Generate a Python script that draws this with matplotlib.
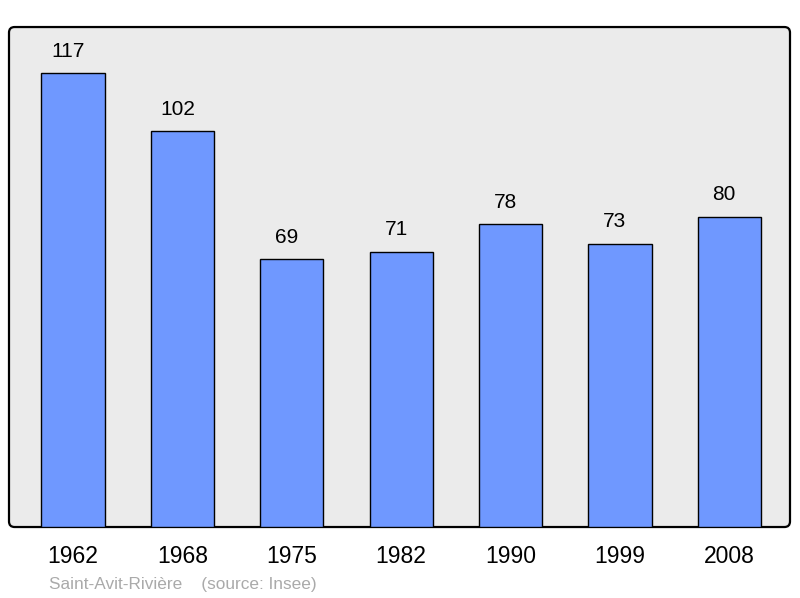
import matplotlib.pyplot as plt
from matplotlib.patches import FancyBboxPatch

years = ["1962", "1968", "1975", "1982", "1990", "1999", "2008"]
population = [117, 102, 69, 71, 78, 73, 80]
commune = "Saint-Avit-Rivière"
source = "(source: Insee)"

plt.rcParams["font.family"] = ["Liberation Sans", "DejaVu Sans"]

fig = plt.figure(figsize=(8, 5.98), dpi=100)
ax = fig.add_axes([0.01125, 0.1187, 0.97625, 0.8361])
ax.set_facecolor("none")

# rounded frame behind the axes
frame = FancyBboxPatch((0.01125, 0.1187), 0.97625, 0.8361,
                       boxstyle="round,pad=0,rounding_size=0.007",
                       mutation_aspect=800 / 598,
                       transform=fig.transFigure, facecolor="#ebebeb",
                       edgecolor="black", linewidth=1.6, zorder=-1)
fig.patches.append(frame)

x = range(len(years))
ax.bar(x, population, width=0.578, color="#6f98ff", edgecolor="black",
       linewidth=1.0, zorder=2)
for i, v in enumerate(population):
    ax.annotate(str(v), (i, v), xytext=(-3.6, 9), textcoords="offset points",
                ha="center", va="bottom", fontsize=15)

ax.set_xlim(-0.585, 6.555)
ax.set_ylim(0, 128.9)
ax.set_yticks([])
ax.set_xticks(list(x))
ax.set_xticklabels(years, fontsize=16.5)
ax.tick_params(axis="x", length=0, pad=13)
for s in ax.spines.values():
    s.set_visible(False)

fig.text(49 / 800, 1 - 585 / 598, commune + "    " + source, fontsize=12.4,
         color="#aaaaaa", ha="left", va="center")

fig.savefig("out.png", dpi=100)
